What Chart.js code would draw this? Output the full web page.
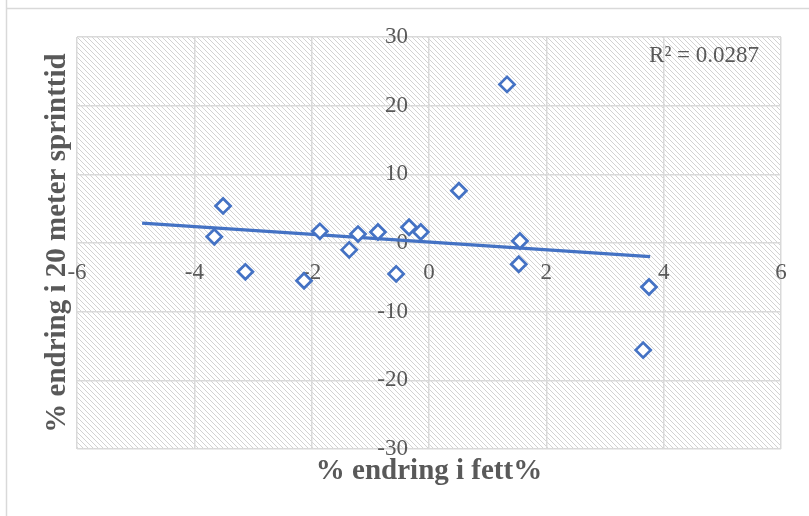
<!DOCTYPE html>
<html>
<head>
<meta charset="utf-8">
<script src="https://cdn.jsdelivr.net/npm/chart.js@4"></script>
<style>
  html, body { margin: 0; padding: 0; background: #fff; }
  #wrap { position: relative; width: 809px; height: 516px; }
</style>
</head>
<body>
<div id="wrap"><canvas id="chart" width="809" height="516"></canvas></div>
<script>
// data
const fatChange = [-3.66, -3.51, -3.13, -2.13, -1.86, -1.36, -1.21, -0.87, -0.56, -0.34, -0.14, 0.51, 1.33, 1.55, 1.53, 3.75, 3.65];
const sprintChange = [0.9, 5.4, -4.2, -5.5, 1.7, -1.0, 1.3, 1.6, -4.5, 2.3, 1.6, 7.6, 23.1, 0.3, -3.1, -6.4, -15.6];
const trendX = [-4.89, 3.77];
const trendY = [2.9, -2.0];
const xTicks = [-6, -4, -2, 0, 2, 4, 6];
const yTicks = [-30, -20, -10, 0, 10, 20, 30];
const rSquaredLabel = 'R² = 0.0287';
const xTitle = '% endring i fett%';
const yTitle = '% endring i 20 meter sprinttid';

const BLUE = '#4472C4';
const GRID = '#d9d9d9';
const TEXT = '#595959';
const SERIF = '"Liberation Serif", "Times New Roman", serif';

// hatch tile (light downward diagonal)
function makeHatch(ctx) {
  const n = 5;
  const tile = document.createElement('canvas');
  tile.width = n; tile.height = n;
  const t = tile.getContext('2d');
  t.fillStyle = '#ffffff';
  t.fillRect(0, 0, n, n);
  t.fillStyle = '#d2d2d2';
  for (let i = 0; i < n; i++) t.fillRect(i, i, 1, 1);
  return ctx.createPattern(tile, 'repeat');
}

const decorPlugin = {
  id: 'decor',
  beforeDraw(chart) {
    const { ctx, chartArea: a } = chart;
    ctx.save();
    ctx.fillStyle = '#fff';
    ctx.fillRect(0, 0, chart.width, chart.height);
    // outer chart border
    ctx.strokeStyle = GRID;
    ctx.lineWidth = 1.5;
    ctx.beginPath();
    ctx.moveTo(6.5, 0); ctx.lineTo(6.5, chart.height);
    ctx.moveTo(6.5, 8.5); ctx.lineTo(chart.width, 8.5);
    ctx.stroke();
    ctx.fillStyle = makeHatch(ctx);
    ctx.fillRect(a.left, a.top, a.right - a.left, a.bottom - a.top);
    ctx.restore();
  },
  afterDraw(chart) {
    const { ctx, chartArea: a } = chart;
    ctx.save();
    ctx.fillStyle = TEXT;
    ctx.font = 'bold 29px ' + SERIF;
    ctx.textAlign = 'center';
    ctx.textBaseline = 'middle';
    ctx.fillText(xTitle, (a.left + a.right) / 2, a.bottom + 23);
    ctx.translate(a.left - 19, (a.top + a.bottom) / 2);
    ctx.rotate(-Math.PI / 2);
    ctx.fillText(yTitle, 0, 0);
    ctx.restore();

    ctx.save();
    ctx.fillStyle = TEXT;
    ctx.font = '23px ' + SERIF;
    ctx.textAlign = 'right';
    ctx.textBaseline = 'middle';
    ctx.fillText(rSquaredLabel, a.right - 22, a.top + 19);
    ctx.restore();
  }
};

const tickFont = { family: SERIF, size: 23 };

new Chart(document.getElementById('chart'), {
  type: 'scatter',
  data: {
    datasets: [
      {
        label: 'Punkter',
        data: fatChange.map((x, i) => ({ x: x, y: sprintChange[i] })),
        pointStyle: 'rectRot',
        pointRadius: 7.5,
        pointHoverRadius: 7.5,
        borderColor: BLUE,
        backgroundColor: '#ffffff',
        borderWidth: 2.75,
        order: 1
      },
      {
        label: 'Trend',
        type: 'line',
        data: trendX.map((x, i) => ({ x: x, y: trendY[i] })),
        borderColor: BLUE,
        borderWidth: 3.25,
        pointRadius: 0,
        fill: false,
        order: 2
      }
    ]
  },
  options: {
    responsive: false,
    animation: false,
    devicePixelRatio: 1,
    layout: { padding: { left: 77, top: 37, right: 28, bottom: 67 } },
    plugins: {
      legend: { display: false },
      tooltip: { enabled: false }
    },
    scales: {
      x: {
        type: 'linear',
        min: -6, max: 6,
        position: { y: 0 },
        afterBuildTicks: s => { s.ticks = xTicks.map(v => ({ value: v })); },
        grid: { color: GRID, lineWidth: 1.5, drawTicks: false },
        border: { display: false },
        ticks: { color: TEXT, font: tickFont, padding: 16, maxRotation: 0 }
      },
      y: {
        type: 'linear',
        min: -30, max: 30,
        // labels sit a little left of the x = 0 line, as in Excel
        position: { x: -0.36 },
        afterBuildTicks: s => { s.ticks = yTicks.map(v => ({ value: v })); },
        grid: { color: GRID, lineWidth: 1.5, drawTicks: false },
        border: { display: false },
        ticks: { color: TEXT, font: tickFont }
      }
    }
  },
  plugins: [decorPlugin]
});
</script>
</body>
</html>
